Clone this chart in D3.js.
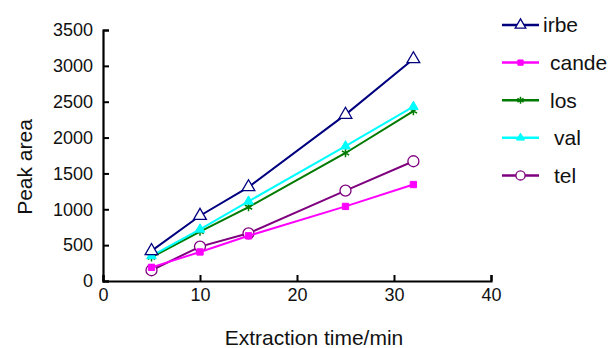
<!DOCTYPE html>
<html>
<head>
<meta charset="utf-8">
<script src="https://cdn.jsdelivr.net/npm/d3@7"></script>
<style>
  body { margin: 0; background: #fff; }
  text { font-family: "Liberation Sans", Arial, sans-serif; fill: #111; }
</style>
</head>
<body>
<div id="chart"></div>
<script>
// extraction times (min)
const times = [5, 10, 15, 25, 32];

// peak areas
const irbe = [420, 910, 1310, 2320, 3095];
const cande = [190, 405, 630, 1040, 1345];
const los = [330, 690, 1030, 1785, 2370];
const val = [350, 720, 1110, 1880, 2430];
const tel = [150, 480, 665, 1260, 1670];

const seriesNames = ["irbe", "cande", "los", "val", "tel"];
const seriesValues = [irbe, cande, los, val, tel];
const seriesColors = ["#00007f", "#ff00ff", "#007a00", "#00ffff", "#7f007f"];
const seriesMarkers = ["triangleOpen", "square", "star", "triangle", "circleOpen"];

const xTicks = [0, 10, 20, 30, 40];
const yTicks = [0, 500, 1000, 1500, 2000, 2500, 3000, 3500];

const W = 610, H = 348;
const margin = { top: 30, right: 119, bottom: 67, left: 103 };
const width = W - margin.left - margin.right;
const height = H - margin.top - margin.bottom;

const svg = d3.select("#chart")
  .append("svg")
  .attr("width", W)
  .attr("height", H);

const g = svg.append("g")
  .attr("transform", `translate(${margin.left},${margin.top})`);

const xScale = d3.scaleLinear().domain([0, 40]).range([0, width]);
const yScale = d3.scaleLinear().domain([0, 3500]).range([height, 0]);

// axes with inward ticks
const xAxis = g.append("g")
  .attr("transform", `translate(0,${height})`)
  .call(d3.axisBottom(xScale).tickValues(xTicks).tickFormat(d3.format("d")).tickSize(-6).tickPadding(7));
const yAxis = g.append("g")
  .call(d3.axisLeft(yScale).tickValues(yTicks).tickFormat(d3.format("d")).tickSize(-6).tickPadding(10));

[xAxis, yAxis].forEach(a => {
  a.select(".domain").attr("stroke", "#000").attr("stroke-width", 2.2);
  a.selectAll(".tick line").attr("stroke", "#000").attr("stroke-width", 2);
  a.selectAll(".tick text")
    .style("font-family", "'Liberation Sans', Arial, sans-serif")
    .style("font-size", "18px")
    .attr("fill", "#111");
});

svg.append("text")
  .attr("transform", "translate(32,167) rotate(-90)")
  .attr("text-anchor", "middle")
  .style("font-size", "21px")
  .text("Peak area");

svg.append("text")
  .attr("x", 314)
  .attr("y", 345)
  .attr("text-anchor", "middle")
  .style("font-size", "21px")
  .text("Extraction time/min");

function drawMarker(sel, type, color, small) {
  const f = small ? 0.7 : 1;
  if (type === "triangleOpen") {
    sel.append("path").attr("d", d3.symbol(d3.symbolTriangle, 70 * f)())
      .attr("fill", "#fff").attr("stroke", color).attr("stroke-width", 1.3);
  } else if (type === "triangle") {
    sel.append("path").attr("d", d3.symbol(d3.symbolTriangle, 40 * f)())
      .attr("fill", color).attr("stroke", color);
  } else if (type === "square") {
    sel.append("path").attr("d", d3.symbol(d3.symbolSquare, 40 * f)())
      .attr("fill", color).attr("stroke", color);
  } else if (type === "star") {
    sel.append("path").attr("d", d3.symbol(d3.symbolAsterisk, 50 * f)())
      .attr("fill", "none").attr("stroke", color).attr("stroke-width", 1.5);
  } else if (type === "circleOpen") {
    sel.append("circle").attr("r", 5.5 * Math.sqrt(f))
      .attr("fill", "#fff").attr("stroke", color).attr("stroke-width", 1.3);
  }
}

const line = d3.line()
  .x((d, i) => xScale(times[i]))
  .y(d => yScale(d));

// draw order so that irbe sits on top like the figure
const order = [4, 1, 2, 3, 0];
order.forEach(k => {
  const s = g.append("g");
  s.append("path")
    .datum(seriesValues[k])
    .attr("fill", "none")
    .attr("stroke", seriesColors[k])
    .attr("stroke-width", 2)
    .attr("d", line);
  seriesValues[k].forEach((v, i) => {
    const m = s.append("g")
      .attr("transform", `translate(${xScale(times[i])},${yScale(v)})`);
    drawMarker(m, seriesMarkers[k], seriesColors[k], false);
  });
});

// legend
const legendX = [41, 48, 48, 52, 52];
const legend = svg.append("g").attr("transform", "translate(502,25)");
seriesNames.forEach((name, k) => {
  const item = legend.append("g").attr("transform", `translate(0,${k * 37.6})`);
  item.append("line")
    .attr("x1", 0).attr("x2", 37)
    .attr("stroke", seriesColors[k]).attr("stroke-width", 2.5);
  const m = item.append("g").attr("transform", "translate(18.5,0)");
  drawMarker(m, seriesMarkers[k], seriesColors[k], true);
  item.append("text")
    .attr("x", legendX[k])
    .attr("y", 0)
    .attr("dy", "0.35em")
    .style("font-size", "21px")
    .text(name);
});
</script>
</body>
</html>
